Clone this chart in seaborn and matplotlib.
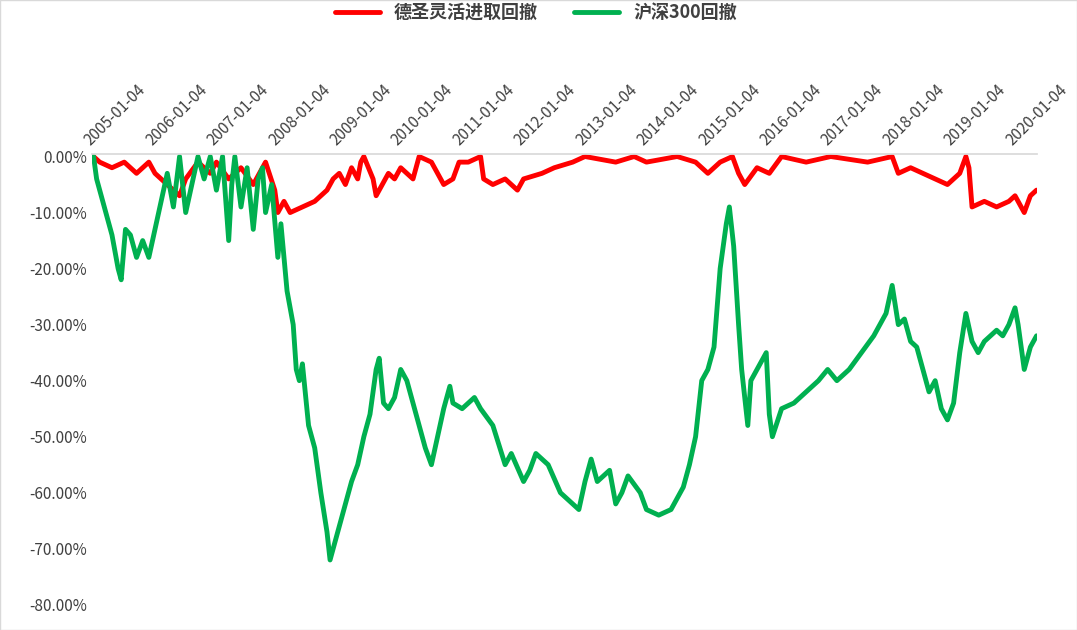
import matplotlib
matplotlib.use("Agg")
import matplotlib.pyplot as plt
import seaborn as sns
import pandas as pd
from matplotlib.ticker import FuncFormatter

green_t = [2005.0,2005.05,2005.1,2005.2,2005.3,2005.4,2005.45,2005.52,2005.6,2005.7,2005.8,2005.9,2006.0,2006.1,2006.2,2006.3,2006.4,2006.5,2006.6,2006.7,2006.8,2006.9,2007.0,2007.1,2007.2,2007.25,2007.3,2007.4,2007.5,2007.6,2007.68,2007.75,2007.8,2007.9,2008.0,2008.05,2008.15,2008.25,2008.3,2008.35,2008.4,2008.5,2008.6,2008.7,2008.8,2008.85,2008.95,2009.0,2009.1,2009.2,2009.3,2009.4,2009.5,2009.6,2009.65,2009.72,2009.8,2009.9,2010.0,2010.1,2010.25,2010.4,2010.5,2010.6,2010.7,2010.8,2010.85,2011.0,2011.1,2011.2,2011.3,2011.5,2011.7,2011.8,2012.0,2012.1,2012.2,2012.4,2012.6,2012.8,2012.9,2013.0,2013.1,2013.2,2013.4,2013.5,2013.6,2013.7,2013.9,2014.0,2014.2,2014.4,2014.6,2014.7,2014.8,2014.9,2015.0,2015.1,2015.2,2015.3,2015.35,2015.42,2015.5,2015.55,2015.6,2015.65,2015.7,2015.8,2015.95,2016.0,2016.05,2016.2,2016.4,2016.6,2016.8,2016.95,2017.1,2017.3,2017.5,2017.7,2017.9,2018.0,2018.1,2018.2,2018.3,2018.4,2018.5,2018.6,2018.7,2018.8,2018.9,2019.0,2019.1,2019.2,2019.3,2019.4,2019.5,2019.6,2019.7,2019.8,2019.9,2020.0,2020.05,2020.15,2020.25,2020.35]
green_v = [0,-4,-6,-10,-14,-20,-22,-13,-14,-18,-15,-18,-13,-8,-3,-9,0,-10,-5,0,-4,0,-6,0,-15,-5,0,-9,-2,-13,-4,-2,-10,-5,-18,-12,-24,-30,-38,-40,-37,-48,-52,-60,-67,-72,-68,-66,-62,-58,-55,-50,-46,-38,-36,-44,-45,-43,-38,-40,-46,-52,-55,-50,-45,-41,-44,-45,-44,-43,-45,-48,-55,-53,-58,-56,-53,-55,-60,-62,-63,-58,-54,-58,-56,-62,-60,-57,-60,-63,-64,-63,-59,-55,-50,-40,-38,-34,-20,-12,-9,-16,-30,-38,-43,-48,-40,-38,-35,-46,-50,-45,-44,-42,-40,-38,-40,-38,-35,-32,-28,-23,-30,-29,-33,-34,-38,-42,-40,-45,-47,-44,-35,-28,-33,-35,-33,-32,-31,-32,-30,-27,-30,-38,-34,-32]

red_t = [2005.0,2005.1,2005.3,2005.5,2005.7,2005.9,2006.0,2006.2,2006.4,2006.5,2006.7,2006.9,2007.0,2007.2,2007.4,2007.6,2007.8,2007.95,2008.0,2008.1,2008.2,2008.4,2008.6,2008.8,2008.9,2009.0,2009.1,2009.2,2009.3,2009.35,2009.4,2009.55,2009.6,2009.8,2009.9,2010.0,2010.2,2010.3,2010.5,2010.6,2010.7,2010.85,2010.95,2011.1,2011.3,2011.35,2011.5,2011.7,2011.9,2012.0,2012.3,2012.5,2012.8,2013.0,2013.5,2013.8,2014.0,2014.5,2014.8,2015.0,2015.2,2015.4,2015.5,2015.6,2015.8,2016.0,2016.2,2016.6,2017.0,2017.6,2018.0,2018.1,2018.3,2018.5,2018.7,2018.9,2019.1,2019.2,2019.25,2019.3,2019.5,2019.7,2019.9,2020.0,2020.1,2020.15,2020.25,2020.35]
red_v = [0,-1,-2,-1,-3,-1,-3,-5,-7,-4,-1,-3,-1,-4,-2,-5,-1,-6,-10,-8,-10,-9,-8,-6,-4,-3,-5,-2,-4,-1,0,-4,-7,-3,-4,-2,-4,0,-1,-3,-5,-4,-1,-1,0,-4,-5,-4,-6,-4,-3,-2,-1,0,-1,0,-1,0,-1,-3,-1,0,-3,-5,-2,-3,0,-1,0,-1,0,-3,-2,-3,-4,-5,-3,0,-2,-9,-8,-9,-8,-7,-9,-10,-7,-6]

years = list(range(2005, 2021))
tick_labels = [f"{y}-01-04" for y in years]

df = pd.concat([
    pd.DataFrame({"t": red_t, "v": red_v, "s": "德圣灵活进取回撤"}),
    pd.DataFrame({"t": green_t, "v": green_v, "s": "沪深300回撤"}),
])

sns.set_theme(style="white")
plt.rcParams['font.family'] = ['Noto Sans CJK SC', 'DejaVu Sans']

fig = plt.figure(figsize=(10.77, 6.3), dpi=100)
ax = fig.add_axes([0.085, 0.04, 0.878, 0.716])
sns.lineplot(data=df, x="t", y="v", hue="s", palette=["#FF0000", "#00B050"],
             linewidth=3.5, ax=ax, sort=False)
ax.set_xlim(2005 - 2/61.4, 2020.36)
ax.set_ylim(-80, 0.5)
ax.set_yticks(range(-80, 1, 10))
ax.yaxis.set_major_formatter(FuncFormatter(lambda v, p: f"{v:.2f}%"))
ax.set_xticks(years)
ax.set_xticklabels(tick_labels, rotation=45, ha="left", rotation_mode="anchor")
ax.xaxis.tick_top()
ax.tick_params(axis="both", labelsize=11, colors="#404040", length=0)
ax.set_xlabel(""); ax.set_ylabel("")
for s in ["left", "right", "bottom"]:
    ax.spines[s].set_visible(False)
ax.spines["top"].set_color("#D9D9D9")
leg = ax.legend(loc="upper center", bbox_to_anchor=(0.47, 1.37), ncol=2, frameon=False,
                fontsize=13, handlelength=2.5)
for t in leg.get_texts():
    t.set_fontweight("bold"); t.set_color("#404040")
fig.patches.append(plt.Rectangle((0, 0), 1, 1, transform=fig.transFigure, fill=False,
                                 edgecolor="#D9D9D9", linewidth=1))
fig.savefig("out.png", dpi=100)
